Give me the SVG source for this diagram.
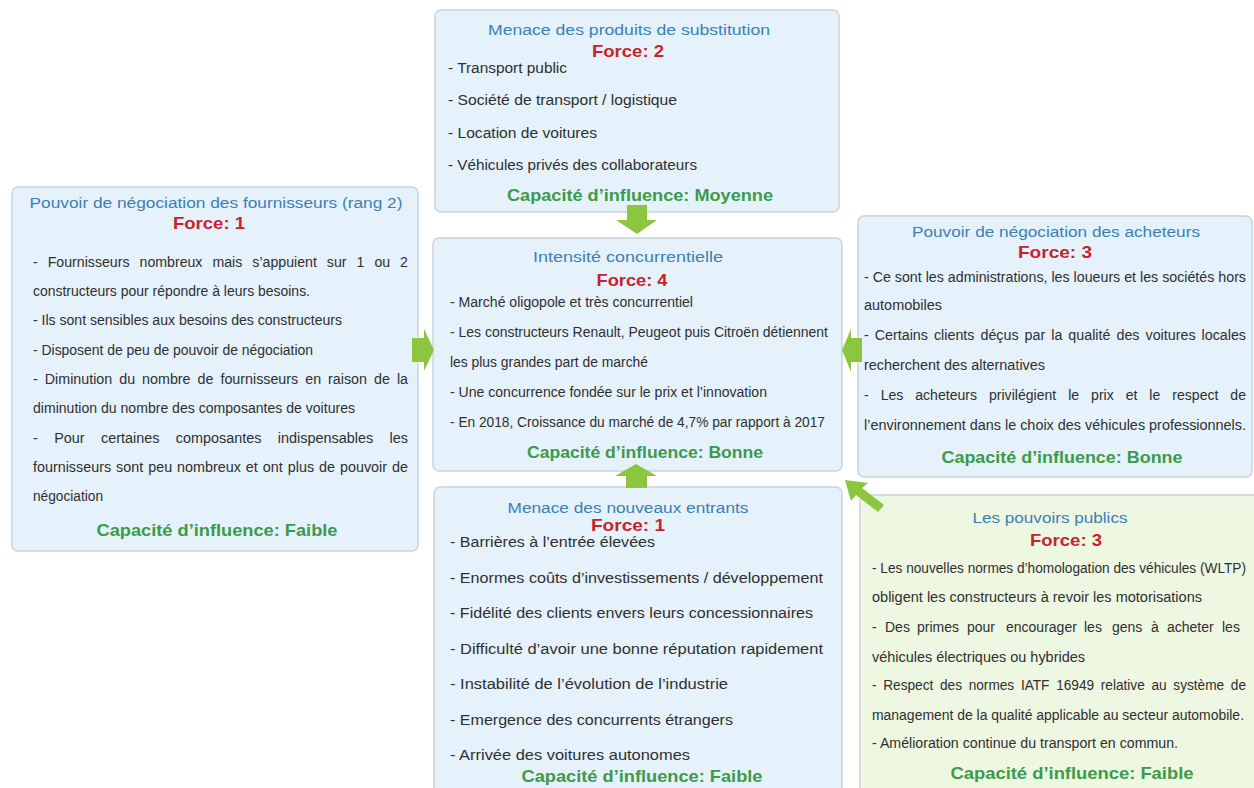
<svg xmlns="http://www.w3.org/2000/svg" width="1254" height="788" viewBox="0 0 1254 788">
<style>
.box{fill:#e5f2fb;stroke:#c9d4dc;stroke-width:1.5}
.gbox{fill:#eef7e1;stroke:#c9d4dc;stroke-width:1.5}
.t{font-family:"Liberation Sans",Arial,sans-serif;font-size:15.5px;fill:#3b7fb6;text-anchor:middle}
.f{font-family:"Liberation Sans",Arial,sans-serif;font-size:17px;font-weight:bold;fill:#c8232c;text-anchor:middle}
.b{font-family:"Liberation Sans",Arial,sans-serif;font-size:14px;fill:#2f2f2f}
.bb{font-family:"Liberation Sans",Arial,sans-serif;font-size:15.5px;fill:#2f2f2f}
.c{font-family:"Liberation Sans",Arial,sans-serif;font-size:16.5px;font-weight:bold;fill:#3c9a4a;text-anchor:middle}
.arr{fill:#8cc63f}
</style>
<rect width="1254" height="788" fill="#ffffff"/>

<g id="substitution">
<rect class="box" x="435" y="10" width="404" height="202" rx="6"/>
<text class="t" x="629" y="35" textLength="282" lengthAdjust="spacingAndGlyphs">Menace des produits de substitution</text>
<text class="f" x="628" y="57" textLength="72" lengthAdjust="spacingAndGlyphs">Force: 2</text>
<text class="b" x="448" y="73" textLength="119" lengthAdjust="spacingAndGlyphs">- Transport public</text>
<text class="b" x="448" y="105" textLength="229" lengthAdjust="spacingAndGlyphs">- Société de transport / logistique</text>
<text class="b" x="448" y="138" textLength="149" lengthAdjust="spacingAndGlyphs">- Location de voitures</text>
<text class="b" x="448" y="170" textLength="249" lengthAdjust="spacingAndGlyphs">- Véhicules privés des collaborateurs</text>
<text class="c" x="640" y="201" textLength="266" lengthAdjust="spacingAndGlyphs">Capacité d’influence: Moyenne</text>
</g>

<g id="fournisseurs">
<rect class="box" x="12" y="187" width="406" height="364" rx="6"/>
<text class="t" x="216" y="208" textLength="373" lengthAdjust="spacingAndGlyphs">Pouvoir de négociation des fournisseurs (rang 2)</text>
<text class="f" x="209" y="229" textLength="72" lengthAdjust="spacingAndGlyphs">Force: 1</text>
<text class="b" x="33" y="267" word-spacing="6" textLength="375" lengthAdjust="spacingAndGlyphs">- Fournisseurs nombreux mais s’appuient sur 1 ou 2</text>
<text class="b" x="33" y="296" textLength="277" lengthAdjust="spacingAndGlyphs">constructeurs pour répondre à leurs besoins.</text>
<text class="b" x="33" y="325" textLength="309" lengthAdjust="spacingAndGlyphs">- Ils sont sensibles aux besoins des constructeurs</text>
<text class="b" x="33" y="355" textLength="280" lengthAdjust="spacingAndGlyphs">- Disposent de peu de pouvoir de négociation</text>
<text class="b" x="33" y="384" word-spacing="3" textLength="375" lengthAdjust="spacingAndGlyphs">- Diminution du nombre de fournisseurs en raison de la</text>
<text class="b" x="33" y="413" textLength="322" lengthAdjust="spacingAndGlyphs">diminution du nombre des composantes de voitures</text>
<text class="b" x="33" y="443" word-spacing="12" textLength="375" lengthAdjust="spacingAndGlyphs">- Pour certaines composantes indispensables les</text>
<text class="b" x="33" y="472" word-spacing="1" textLength="375" lengthAdjust="spacingAndGlyphs">fournisseurs sont peu nombreux et ont plus de pouvoir de</text>
<text class="b" x="33" y="501" textLength="70" lengthAdjust="spacingAndGlyphs">négociation</text>
<text class="c" x="217" y="536" textLength="241" lengthAdjust="spacingAndGlyphs">Capacité d’influence: Faible</text>
</g>

<g id="intensite">
<rect class="box" x="433" y="238" width="409" height="233" rx="6"/>
<text class="t" x="628" y="262" textLength="190" lengthAdjust="spacingAndGlyphs">Intensité concurrentielle</text>
<text class="f" x="632" y="286" textLength="71" lengthAdjust="spacingAndGlyphs">Force: 4</text>
<text class="b" x="450" y="307" textLength="243" lengthAdjust="spacingAndGlyphs">- Marché oligopole et très concurrentiel</text>
<text class="b" x="450" y="337" textLength="378" lengthAdjust="spacingAndGlyphs">- Les constructeurs Renault, Peugeot puis Citroën détiennent</text>
<text class="b" x="450" y="367" textLength="198" lengthAdjust="spacingAndGlyphs">les plus grandes part de marché</text>
<text class="b" x="450" y="397" textLength="317" lengthAdjust="spacingAndGlyphs">- Une concurrence fondée sur le prix et l’innovation</text>
<text class="b" x="450" y="427" textLength="375" lengthAdjust="spacingAndGlyphs">- En 2018, Croissance du marché de 4,7% par rapport à 2017</text>
<text class="c" x="645" y="458" textLength="236" lengthAdjust="spacingAndGlyphs">Capacité d’influence: Bonne</text>
</g>

<g id="acheteurs">
<rect class="box" x="858" y="216" width="394" height="261" rx="6"/>
<text class="t" x="1056" y="237" textLength="288" lengthAdjust="spacingAndGlyphs">Pouvoir de négociation des acheteurs</text>
<text class="f" x="1055" y="258" textLength="74" lengthAdjust="spacingAndGlyphs">Force: 3</text>
<text class="b" x="864" y="282" textLength="382" lengthAdjust="spacingAndGlyphs">- Ce sont les administrations, les loueurs et les sociétés hors</text>
<text class="b" x="864" y="310" textLength="78" lengthAdjust="spacingAndGlyphs">automobiles</text>
<text class="b" x="864" y="340" word-spacing="2" textLength="382" lengthAdjust="spacingAndGlyphs">- Certains clients déçus par la qualité des voitures locales</text>
<text class="b" x="864" y="370" textLength="181" lengthAdjust="spacingAndGlyphs">recherchent des alternatives</text>
<text class="b" x="864" y="400" word-spacing="8" textLength="382" lengthAdjust="spacingAndGlyphs">- Les acheteurs privilégient le prix et le respect de</text>
<text class="b" x="864" y="430" textLength="382" lengthAdjust="spacingAndGlyphs">l’environnement dans le choix  des véhicules professionnels.</text>
<text class="c" x="1062" y="463" textLength="241" lengthAdjust="spacingAndGlyphs">Capacité d’influence: Bonne</text>
</g>

<g id="entrants">
<rect class="box" x="434" y="487" width="408" height="330" rx="6"/>
<text class="t" x="628" y="513" textLength="241" lengthAdjust="spacingAndGlyphs">Menace des nouveaux entrants</text>
<text class="f" x="628" y="531" textLength="74" lengthAdjust="spacingAndGlyphs">Force: 1</text>
<text class="bb" x="450" y="547" textLength="205" lengthAdjust="spacingAndGlyphs">- Barrières à l’entrée élevées</text>
<text class="bb" x="450" y="583" textLength="373" lengthAdjust="spacingAndGlyphs">- Enormes coûts d’investissements / développement</text>
<text class="bb" x="450" y="618" textLength="363" lengthAdjust="spacingAndGlyphs">- Fidélité des clients envers leurs concessionnaires</text>
<text class="bb" x="450" y="654" textLength="373" lengthAdjust="spacingAndGlyphs">- Difficulté d’avoir une bonne réputation rapidement</text>
<text class="bb" x="450" y="689" textLength="278" lengthAdjust="spacingAndGlyphs">- Instabilité de l’évolution de l’industrie</text>
<text class="bb" x="450" y="725" textLength="283" lengthAdjust="spacingAndGlyphs">- Emergence des concurrents étrangers</text>
<text class="bb" x="450" y="760" textLength="240" lengthAdjust="spacingAndGlyphs">- Arrivée des voitures autonomes</text>
<text class="c" x="642" y="782" textLength="241" lengthAdjust="spacingAndGlyphs">Capacité d’influence: Faible</text>
</g>

<g id="pouvoirs-publics">
<rect class="gbox" x="860" y="495" width="404" height="320" rx="6"/>
<text class="t" x="1050" y="523" textLength="155" lengthAdjust="spacingAndGlyphs">Les pouvoirs publics</text>
<text class="f" x="1066" y="546" textLength="72" lengthAdjust="spacingAndGlyphs">Force: 3</text>
<text class="b" x="872" y="573" textLength="374" lengthAdjust="spacingAndGlyphs">- Les nouvelles normes d’homologation des véhicules (WLTP)</text>
<text class="b" x="872" y="602" textLength="330" lengthAdjust="spacingAndGlyphs">obligent les constructeurs à revoir les motorisations</text>
<text class="b" y="632"><tspan x="872">-</tspan><tspan x="885">Des</tspan><tspan x="917">primes</tspan><tspan x="967">pour</tspan><tspan x="1006">encourager</tspan><tspan x="1084">les</tspan><tspan x="1112">gens</tspan><tspan x="1151">à</tspan><tspan x="1167">acheter</tspan><tspan x="1222">les</tspan></text>
<text class="b" x="872" y="662" textLength="213" lengthAdjust="spacingAndGlyphs">véhicules électriques ou hybrides</text>
<text class="b" x="872" y="690" word-spacing="3" textLength="374" lengthAdjust="spacingAndGlyphs">- Respect des normes IATF 16949 relative au système de</text>
<text class="b" x="872" y="720" textLength="372" lengthAdjust="spacingAndGlyphs">management de la qualité applicable au secteur automobile.</text>
<text class="b" x="872" y="748" textLength="306" lengthAdjust="spacingAndGlyphs">- Amélioration continue du transport en commun.</text>
<text class="c" x="1072" y="779" textLength="243" lengthAdjust="spacingAndGlyphs">Capacité d’influence: Faible</text>
</g>

<g id="connectors">
<polygon class="arr" points="627,205 647,205 647,220 657,220 637,234 616,220 627,220"/>
<polygon class="arr" points="412,338 424,338 424,329 434,350 424,371 424,362 412,362"/>
<polygon class="arr" points="862,338 851,338 851,329 842,350 851,372 851,362 862,362"/>
<polygon class="arr" points="626,488 647,488 647,476 657,476 636,464 615,476 626,476"/>
<polygon class="arr" points="845,480 868,483 862,488 884,505 878,512 856,495 851,501"/>
</g>
</svg>
